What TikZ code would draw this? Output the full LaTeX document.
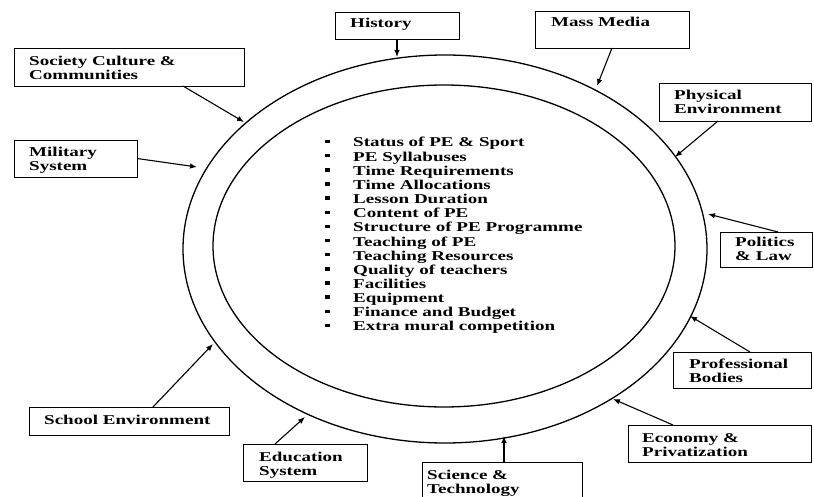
\documentclass[tikz,border=0pt]{standalone}
\usepackage{fontspec}
\setmainfont{Liberation Serif}[FakeStretch=1.41]
\usetikzlibrary{arrows.meta,calc}
\begin{document}
\begin{tikzpicture}[x=1pt,y=-1pt,
  box/.style={draw, line width=0.9pt, inner sep=0pt, outer sep=0pt, anchor=north west},
  lbl/.style={inner sep=0pt, anchor=base west, font=\fontsize{13.5}{14}\selectfont\bfseries},
  arr/.style={line width=1.1pt, -{Latex[length=7pt,width=5.5pt]}},
  ring/.style={line width=1.3pt},
  bul/.style={fill=black, inner sep=0pt, minimum width=5pt, minimum height=3.5pt, anchor=south west}]
\useasboundingbox (0,0) rectangle (814,497);
\fill[white] (0,0) rectangle (814,497);

% rings
\draw[ring] (445,249) ellipse [x radius=262pt, y radius=194pt];
\draw[ring] (444,246) ellipse [x radius=231pt, y radius=161pt];

% boxes
\node[box, minimum width=124pt, minimum height=27pt] (hist) at (335,12) {};
\node[box, minimum width=154pt, minimum height=37pt] (mm) at (535,11) {};
\node[box, minimum width=230pt, minimum height=38pt] (sc) at (14,48) {};
\node[box, minimum width=123pt, minimum height=37pt] (mil) at (14,140) {};
\node[box, minimum width=152pt, minimum height=38pt] (phy) at (659,83) {};
\node[box, minimum width=92pt, minimum height=35pt] (pol) at (720,232) {};
\node[box, minimum width=138pt, minimum height=36pt] (pro) at (673,352) {};
\node[box, minimum width=183pt, minimum height=37pt] (eco) at (628,425) {};
\node[box, minimum width=160pt, minimum height=42pt] (sci) at (422,462) {};
\node[box, minimum width=124pt, minimum height=37pt] (edu) at (243,444) {};
\node[box, minimum width=200pt, minimum height=28pt] (sch) at (29,407) {};

% labels
\node[lbl] (hist-t) at (350,28) {History};
\node[lbl] (mm-t) at (551,27) {Mass Media};
\node[lbl] (sc-t) at (29,66) {\begin{tabular}[t]{@{}l@{}}Society Culture \&\\Communities\end{tabular}};
\node[lbl] (mil-t) at (29,157) {\begin{tabular}[t]{@{}l@{}}Military\\System\end{tabular}};
\node[lbl] (phy-t) at (674,100) {\begin{tabular}[t]{@{}l@{}}Physical\\Environment\end{tabular}};
\node[lbl] (pol-t) at (735,247) {\begin{tabular}[t]{@{}l@{}}Politics\\\& Law\end{tabular}};
\node[lbl] (pro-t) at (689,368) {\begin{tabular}[t]{@{}l@{}}Professional\\Bodies\end{tabular}};
\node[lbl] (eco-t) at (642,442) {\begin{tabular}[t]{@{}l@{}}Economy \&\\Privatization\end{tabular}};
\node[lbl] (sci-t) at (427,479) {\begin{tabular}[t]{@{}l@{}}Science \&\\Technology\end{tabular}};
\node[lbl] (edu-t) at (259,461) {\begin{tabular}[t]{@{}l@{}}Education\\System\end{tabular}};
\node[lbl] (sch-t) at (44,424) {School Environment};

% arrow tips on the ring
\coordinate (tHist) at (397,57);
\coordinate (tMM) at (597,86);
\coordinate (tSC) at (244,122);
\coordinate (tMil) at (197,167);
\coordinate (tPhy) at (675,157);
\coordinate (tPol) at (708,214);
\coordinate (tPro) at (690,316);
\coordinate (tEco) at (613,399);
\coordinate (tSci) at (504,436);
\coordinate (tEdu) at (305,417);
\coordinate (tSch) at (213,344);

% arrows
\draw[arr] (hist.south) -- (tHist);
\draw[arr] (mm.south) -- (tMM);
\draw[arr] ($(sc.south west)+(169,0)$) -- (tSC);
\draw[arr] (mil.east) -- (tMil);
\draw[arr] ($(phy.south west)+(59,0)$) -- (tPhy);
\draw[arr] ($(pol.north west)+(58,0)$) -- (tPol);
\draw[arr] ($(pro.north west)+(77,0)$) -- (tPro);
\draw[arr] ($(eco.north west)+(45,0)$) -- (tEco);
\draw[arr] ($(sci.north west)+(82,0)$) -- (tSci);
\draw[arr] ($(edu.north west)+(32,0)$) -- (tEdu);
\draw[arr] ($(sch.north west)+(124,0)$) -- (tSch);

% list
\foreach \t [count=\i from 0] in {Status of PE \& Sport, PE Syllabuses, Time Requirements, Time Allocations, Lesson Duration, Content of PE, Structure of PE Programme, Teaching of PE, Teaching Resources, Quality of teachers, Facilities, Equipment, Finance and Budget, Extra mural competition}{
  \node[bul] (b\i) at (325,{147+14.15*\i-3.5}) {};
  \node[lbl] (l\i) at (353,{147+14.15*\i}) {\t};
}
\end{tikzpicture}
\end{document}
